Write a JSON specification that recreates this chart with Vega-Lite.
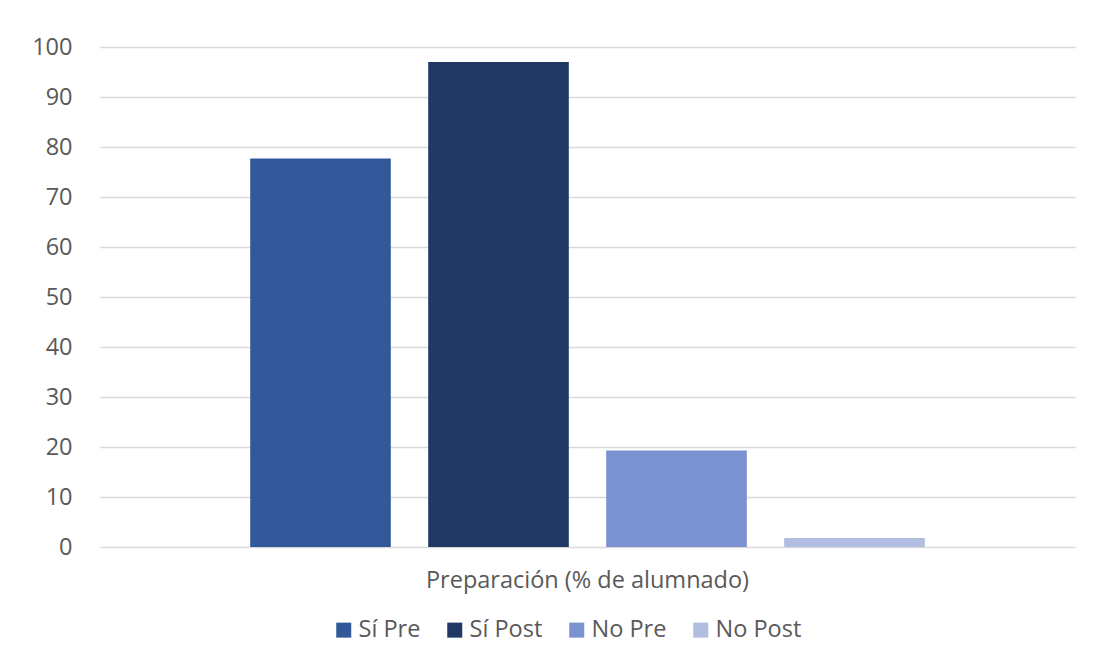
{
  "$schema": "https://vega.github.io/schema/vega-lite/v6.json",
  "width": 975,
  "height": 500,
  "autosize": {"type": "none"},
  "padding": {"left": 100, "top": 47, "right": 22, "bottom": 121},
  "background": "white",
  "data": {
    "values": [
      {"categoria": "Preparación (% de alumnado)", "serie": "Sí Pre", "valor": 77.7},
      {"categoria": "Preparación (% de alumnado)", "serie": "Sí Post", "valor": 97.0},
      {"categoria": "Preparación (% de alumnado)", "serie": "No Pre", "valor": 19.3},
      {"categoria": "Preparación (% de alumnado)", "serie": "No Post", "valor": 1.8}
    ]
  },
  "mark": {"type": "bar"},
  "encoding": {
    "x": {
      "field": "categoria",
      "type": "nominal",
      "scale": {"paddingOuter": 0.1847, "paddingInner": 0},
      "axis": {
        "title": null,
        "labelAngle": 0,
        "labelPadding": 21,
        "labelLimit": 700,
        "domain": false,
        "ticks": false,
        "labelFontSize": 23.5,
        "labelColor": "#595959"
      }
    },
    "xOffset": {
      "field": "serie",
      "type": "nominal",
      "sort": ["Sí Pre", "Sí Post", "No Pre", "No Post"],
      "scale": {"paddingInner": 0.21, "paddingOuter": 0.105}
    },
    "y": {
      "field": "valor",
      "type": "quantitative",
      "scale": {"domain": [0, 100], "nice": false},
      "axis": {
        "title": null,
        "values": [0, 10, 20, 30, 40, 50, 60, 70, 80, 90, 100],
        "grid": true,
        "domain": false,
        "ticks": false,
        "labelPadding": 28,
        "labelFontSize": 23.5,
        "labelColor": "#595959"
      }
    },
    "color": {
      "field": "serie",
      "type": "nominal",
      "sort": ["Sí Pre", "Sí Post", "No Pre", "No Post"],
      "scale": {
        "domain": ["Sí Pre", "Sí Post", "No Pre", "No Post"],
        "range": ["#325899", "#203864", "#7A92CF", "#B1BEE1"]
      },
      "legend": {
        "title": null,
        "orient": "none",
        "legendX": 232,
        "legendY": 571,
        "direction": "horizontal",
        "symbolType": "square",
        "symbolSize": 225,
        "symbolStrokeWidth": 0,
        "labelFontSize": 23.5,
        "labelColor": "#595959",
        "labelOffset": 3,
        "columnPadding": 22
      }
    }
  },
  "config": {
    "font": "Open Sans",
    "view": {"stroke": null},
    "axis": {"gridColor": "#d9d9d9", "gridWidth": 1.5}
  }
}
